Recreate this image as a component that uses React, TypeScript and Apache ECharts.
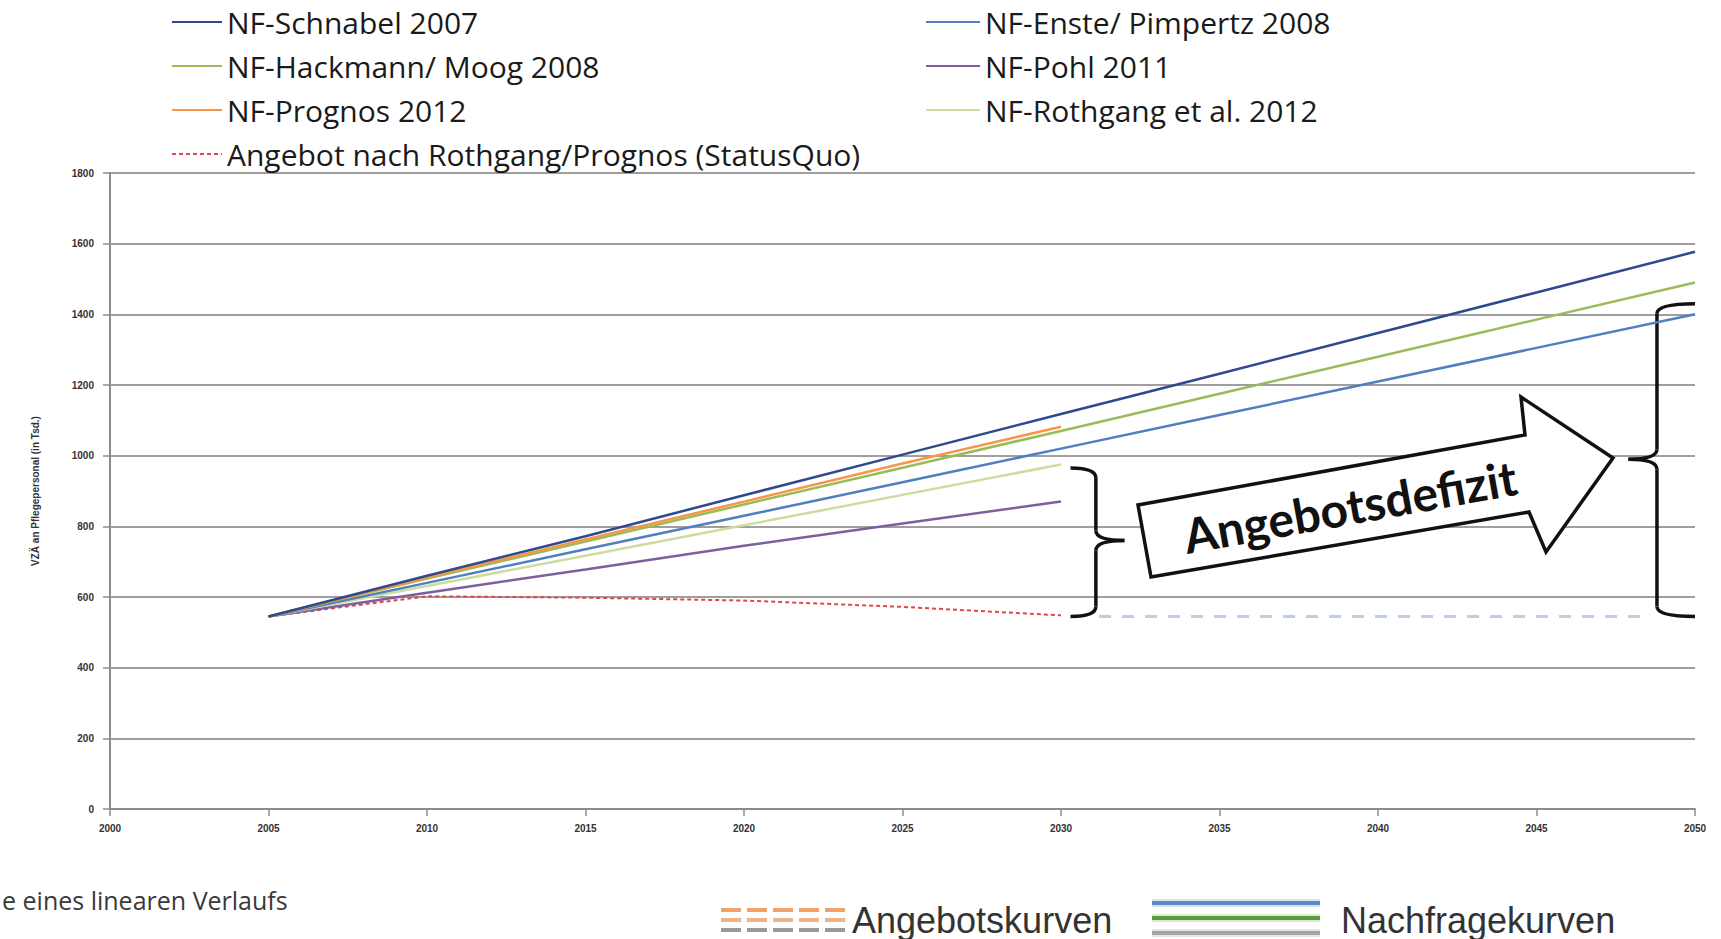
import React, { useEffect, useRef } from "react";
import * as echarts from "echarts";

// ---- data ----
const yearsFull = [2005, 2010, 2015, 2020, 2025, 2030, 2035, 2040, 2045, 2050];
const yearsTo2030 = [2005, 2010, 2015, 2020, 2025, 2030];

const nfSchnabel2007 = [545, 660, 772, 888, 1003, 1118, 1232, 1347, 1462, 1577];
const nfEnstePimpertz2008 = [545, 640, 735, 830, 925, 1020, 1115, 1210, 1305, 1400];
const nfHackmannMoog2008 = [545, 652, 757, 862, 966, 1070, 1175, 1280, 1385, 1490];
const nfPohl2011 = [545, 612, 678, 745, 808, 870];
const nfPrognos2012 = [545, 655, 763, 870, 978, 1082];
const nfRothgang2012 = [545, 631, 717, 803, 889, 975];
const angebotStatusQuo = [545, 602, 598, 590, 572, 548];

const gapYears = [2031.2, 2048.5];
const gapValues = [545, 545];

const xMin = 2000, xMax = 2050, xStep = 5;
const yMin = 0, yMax = 1800, yStep = 200;

const seriesNames = {
  schnabel: "NF-Schnabel 2007",
  enste: "NF-Enste/ Pimpertz 2008",
  hackmann: "NF-Hackmann/ Moog 2008",
  pohl: "NF-Pohl 2011",
  prognos: "NF-Prognos 2012",
  rothgang: "NF-Rothgang et al. 2012",
  angebot: "Angebot nach Rothgang/Prognos (StatusQuo)",
};

const pairs = (xs: number[], ys: number[]) => xs.map((x, i) => [x, ys[i]]);

function brace(p0: number[], pv: number[], ptip: number[], yTop: number, yBot: number, ym: number, r: number) {
  const xe = p0[0];
  const xv = pv[0];
  const xt = ptip[0];
  const st = { stroke: "#111", lineWidth: 3.5, fill: "none" };
  return [
    { type: "bezierCurve", shape: { x1: xe, y1: yTop, cpx1: xv, cpy1: yTop, x2: xv, y2: yTop + r }, style: st },
    { type: "line", shape: { x1: xv, y1: yTop + r, x2: xv, y2: ym - r }, style: st },
    { type: "bezierCurve", shape: { x1: xv, y1: ym - r, cpx1: xv, cpy1: ym, x2: xt, y2: ym }, style: st },
    { type: "bezierCurve", shape: { x1: xv, y1: ym + r, cpx1: xv, cpy1: ym, x2: xt, y2: ym }, style: st },
    { type: "line", shape: { x1: xv, y1: ym + r, x2: xv, y2: yBot - r }, style: st },
    { type: "bezierCurve", shape: { x1: xv, y1: yBot - r, cpx1: xv, cpy1: yBot, x2: xe, y2: yBot }, style: st },
  ];
}

export default function App() {
  const ref = useRef<HTMLDivElement>(null);
  useEffect(() => {
    if (!ref.current) return;
    const chart = echarts.init(ref.current, null, { renderer: "svg" });
    const labelFont = { fontFamily: "Open Sans", fontSize: 30, color: "#1a1a1a", lineHeight: 30 };
    const tickFont = { fontSize: 10, fontWeight: "bold", color: "#333", fontFamily: "Liberation Sans" };
    const option: any = {
      animation: false,
      backgroundColor: "#ffffff",
      grid: { left: 110, right: 26, top: 173, bottom: 130, containLabel: false },
      legend: [
        {
          left: 166,
          top: 2,
          orient: "vertical",
          itemWidth: 50,
          itemHeight: 14,
          itemGap: 14,
          textStyle: labelFont,
          itemStyle: { opacity: 0 },
          data: [seriesNames.schnabel, seriesNames.hackmann, seriesNames.prognos, seriesNames.angebot],
        },
        {
          left: 920,
          top: 2,
          orient: "vertical",
          itemWidth: 54,
          itemHeight: 14,
          itemGap: 14,
          textStyle: labelFont,
          itemStyle: { opacity: 0 },
          data: [seriesNames.enste, seriesNames.pohl, seriesNames.rothgang],
        },
      ],
      xAxis: {
        type: "value",
        min: xMin,
        max: xMax,
        interval: xStep,
        axisLine: { show: true, lineStyle: { color: "#8c8c8c", width: 2 } },
        axisTick: { show: true, inside: false, length: 7, lineStyle: { color: "#8c8c8c", width: 1.5 } },
        splitLine: { show: false },
        axisLabel: { margin: 14, ...tickFont, formatter: (v: number) => String(v) },
      },
      yAxis: {
        type: "value",
        min: yMin,
        max: yMax,
        interval: yStep,
        name: "VZÄ an Pflegepersonal (in Tsd.)",
        nameLocation: "middle",
        nameGap: 70,
        nameRotate: 90,
        nameTextStyle: tickFont,
        axisLine: { show: true, lineStyle: { color: "#8c8c8c", width: 2 } },
        axisTick: { show: true, length: 7, lineStyle: { color: "#8c8c8c", width: 1.5 } },
        splitLine: { show: true, lineStyle: { color: "#9f9f9f", width: 2 } },
        axisLabel: { margin: 16, ...tickFont, formatter: (v: number) => String(v) },
      },
      series: [
        {
          name: seriesNames.angebot,
          type: "line",
          symbol: "none",
          data: pairs(yearsTo2030, angebotStatusQuo),
          lineStyle: { color: "#e0464a", width: 2, type: [4, 3] },
          itemStyle: { color: "#e0464a" },
          z: 2,
        },
        {
          name: "gap",
          type: "line",
          symbol: "none",
          data: pairs(gapYears, gapValues),
          lineStyle: { color: "#bccfe8", width: 3, type: [12, 11] },
          z: 2,
        },
        {
          name: seriesNames.pohl,
          type: "line",
          symbol: "none",
          data: pairs(yearsTo2030, nfPohl2011),
          lineStyle: { color: "#7d5f9e", width: 2.5 },
          itemStyle: { color: "#7d5f9e" },
        },
        {
          name: seriesNames.rothgang,
          type: "line",
          symbol: "none",
          data: pairs(yearsTo2030, nfRothgang2012),
          lineStyle: { color: "#cddc9f", width: 2.5 },
          itemStyle: { color: "#cddc9f" },
        },
        {
          name: seriesNames.enste,
          type: "line",
          symbol: "none",
          data: pairs(yearsFull, nfEnstePimpertz2008),
          lineStyle: { color: "#4f7fc0", width: 2.5 },
          itemStyle: { color: "#4f7fc0" },
        },
        {
          name: seriesNames.hackmann,
          type: "line",
          symbol: "none",
          data: pairs(yearsFull, nfHackmannMoog2008),
          lineStyle: { color: "#9bbb59", width: 2.5 },
          itemStyle: { color: "#9bbb59" },
        },
        {
          name: seriesNames.prognos,
          type: "line",
          symbol: "none",
          data: pairs(yearsTo2030, nfPrognos2012),
          lineStyle: { color: "#f79646", width: 2.5 },
          itemStyle: { color: "#f79646" },
        },
        {
          name: seriesNames.schnabel,
          type: "line",
          symbol: "none",
          data: pairs(yearsFull, nfSchnabel2007),
          lineStyle: { color: "#2e4a8f", width: 2.5 },
          itemStyle: { color: "#2e4a8f" },
        },
      ],
    };
    chart.setOption(option);

    const px = (x: number, y: number) => chart.convertToPixel({ gridIndex: 0 }, [x, y]) as number[];

    // braces
    const lTop = px(2030.3, 965);
    const lBot = px(2030.3, gapValues[0]);
    const lV = px(2031.1, 0);
    const lTip = px(2032.0, 0);
    const lMid = px(0, 760)[1];
    const rTop = px(2050.0, 1430);
    const rBot = px(2050.0, gapValues[0]);
    const rV = px(2048.8, 0);
    const rTip = px(2047.9, 0);
    const rMid = px(0, 990)[1];

    const graphics: any[] = [
      ...brace(lTop, lV, lTip, lTop[1], lBot[1], lMid, 10),
      ...brace(rTop, rV, rTip, rTop[1], rBot[1], rMid, 10),
      {
        type: "polygon",
        shape: {
          points: [
            [1151, 577],
            [1138, 505],
            [1525, 435],
            [1521, 397],
            [1613, 458],
            [1546, 552],
            [1529, 512],
          ],
        },
        style: { fill: "#ffffff", stroke: "#111", lineWidth: 3.5, lineJoin: "miter" },
        z: 10,
      },
      {
        type: "text",
        x: 1350,
        y: 506,
        rotation: (10.2 * Math.PI) / 180,
        style: {
          text: "Angebotsdefizit",
          font: "bold 48px Lato",
          fill: "#111",
          align: "center",
          verticalAlign: "middle",
        },
        z: 11,
      },
      {
        type: "text",
        x: 2,
        y: 900,
        style: {
          text: "e eines linearen Verlaufs",
          font: "25px 'Open Sans'",
          fill: "#3a3a3a",
          align: "left",
          verticalAlign: "middle",
        },
      },
    ];

    // bottom legend: Angebotskurven (dashed rows)
    const dashRows = [
      { y: 910, color: "#f2a16a" },
      { y: 920, color: "#f0b48a" },
      { y: 930, color: "#9a9a9a" },
    ];
    dashRows.forEach((r) => {
      graphics.push({
        type: "line",
        shape: { x1: 721, y1: r.y, x2: 845, y2: r.y },
        style: { stroke: r.color, lineWidth: 4, lineDash: [20, 6] },
      });
    });
    graphics.push({
      type: "text",
      x: 852,
      y: 920,
      style: { text: "Angebotskurven", font: "36px 'Liberation Sans'", fill: "#333", align: "left", verticalAlign: "middle" },
    });

    const solidRows = [
      { y: 903, color: "#5b8ac6", halo: "#d6e3f3" },
      { y: 918, color: "#5a9a3c", halo: "#d9ecd0" },
      { y: 933, color: "#a5a5a5", halo: "#e6e6e6" },
    ];
    solidRows.forEach((r) => {
      graphics.push({
        type: "line",
        shape: { x1: 1152, y1: r.y, x2: 1320, y2: r.y },
        style: { stroke: r.halo, lineWidth: 8 },
      });
      graphics.push({
        type: "line",
        shape: { x1: 1152, y1: r.y, x2: 1320, y2: r.y },
        style: { stroke: r.color, lineWidth: 4 },
      });
    });
    graphics.push({
      type: "text",
      x: 1341,
      y: 920,
      style: { text: "Nachfragekurven", font: "36px 'Liberation Sans'", fill: "#333", align: "left", verticalAlign: "middle" },
    });

    chart.setOption({ graphic: graphics });

    return () => chart.dispose();
  }, []);

  return (
    <div
      ref={ref}
      style={{ position: "absolute", left: 0, top: 0, width: 1721, height: 939, background: "#fff" }}
    />
  );
}
